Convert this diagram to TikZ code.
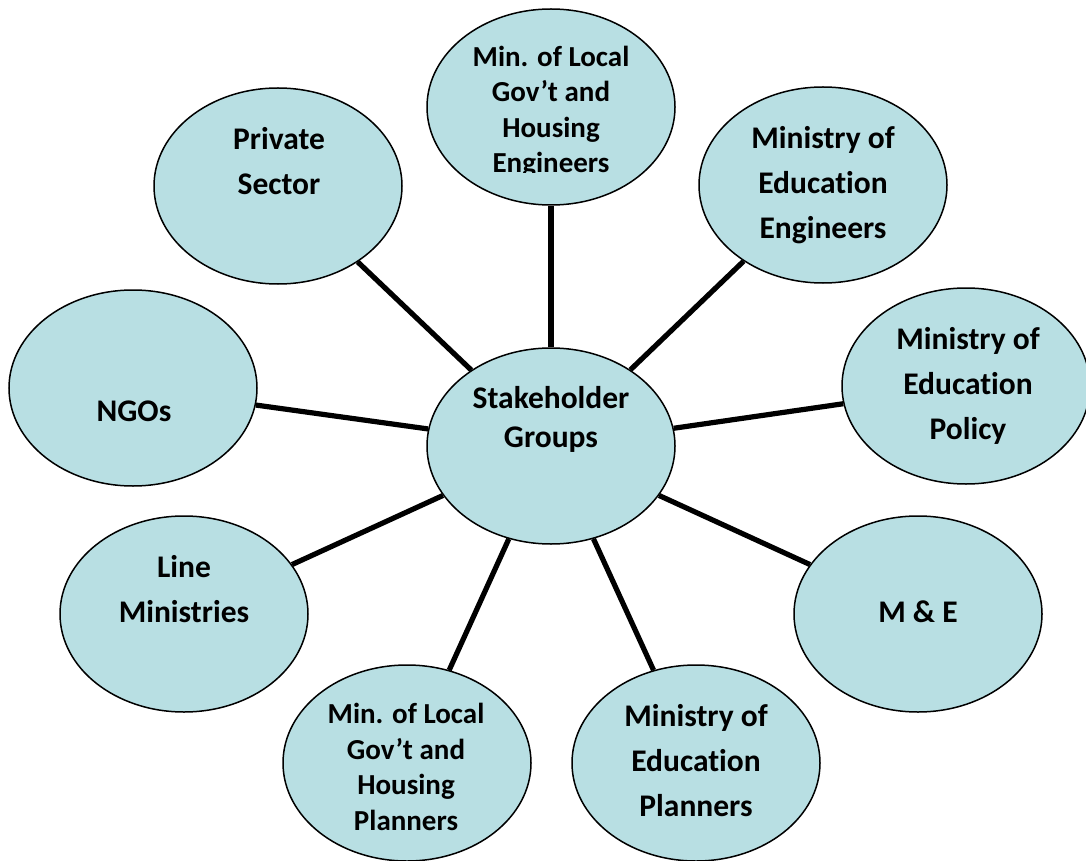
\documentclass[tikz,border=0pt]{standalone}
\usepackage{fontspec}
\setmainfont{Carlito}[Ligatures=NoCommon]
\usepackage{tikz}
\usetikzlibrary{shapes.geometric}
\definecolor{grpfill}{RGB}{184,223,227}

\begin{document}
\begin{tikzpicture}[x=0.5pt, y=-0.5pt,
	grp/.style={ellipse, draw, line width=0.75pt, fill=grpfill, minimum width=124pt, minimum height=98pt, inner sep=0},
	lbl/.style={font=\bfseries\fontsize{15.75}{22.5}\selectfont, align=center, inner sep=0},
	lblsm/.style={font=\bfseries\fontsize{14.5}{17.75}\selectfont, align=center, inner sep=0},
	link/.style={line width=2.6pt}
]
\useasboundingbox (0,0) rectangle (1086,861);

\node[grp] (hub) at (551,446) {};
\node[grp] (mlge) at (551,107) {};
\node[grp] (priv) at (278,186) {};
\node[grp] (moee) at (823,185) {};
\node[grp] (ngo) at (133,388) {};
\node[grp] (moep) at (966,386) {};
\node[grp] (line) at (184,614) {};
\node[grp] (mne) at (918,614) {};
\node[grp] (mlgp) at (407,763) {};
\node[grp] (moepl) at (696,763) {};

\foreach \n in {mlge,priv,moee,ngo,moep,line,mne,mlgp,moepl}
	\draw[link] (hub) -- (\n);

\node[lbl] (hubtxt) at (551,419) {Stakeholder\\[-3pt]Groups};
\begin{scope}
	\clip (420,0) rectangle (690,173);
	\node[lblsm] (mlgetxt) at (551,112) {Min. of Local\\Gov’t and\\Housing\\Engineers};
\end{scope}
\node[lbl] (privtxt) at (279,161) {Private\\Sector};
\node[lbl] (moeetxt) at (823,185) {Ministry of\\Education\\Engineers};
\node[lbl] (ngotxt) at (134,411) {NGOs};
\node[lbl] (moeptxt) at (968,386) {Ministry of\\Education\\Policy};
\node[lbl] (linetxt) at (184,589) {Line\\Ministries};
\node[lbl] (mnetxt) at (918,612) {M \& E};
\node[lblsm] (mlgptxt) at (406,767) {Min. of Local\\Gov’t and\\Housing\\Planners};
\node[lbl] (moepltxt) at (696,761) {Ministry of\\Education\\Planners};
\end{tikzpicture}
\end{document}
